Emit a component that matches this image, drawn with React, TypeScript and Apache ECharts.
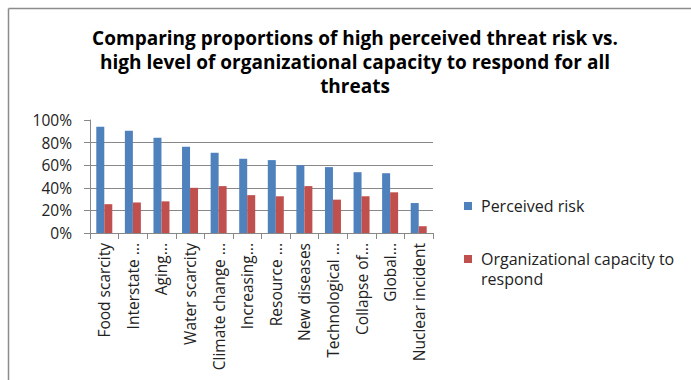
import React, { useEffect, useRef } from "react";
import * as echarts from "echarts";

const categories = [
  "Food scarcity",
  "Interstate ...",
  "Aging...",
  "Water scarcity",
  "Climate change ...",
  "Increasing...",
  "Resource ...",
  "New diseases",
  "Technological ...",
  "Collapse of...",
  "Global...",
  "Nuclear incident",
];
const perceivedRisk = [0.94, 0.905, 0.843, 0.763, 0.71, 0.657, 0.645, 0.6, 0.583, 0.538, 0.529, 0.265];
const orgCapacity = [0.255, 0.27, 0.28, 0.4, 0.415, 0.335, 0.325, 0.415, 0.295, 0.325, 0.36, 0.06];
const seriesNames = ["Perceived risk", "Organizational capacity to respond"];
const yTicks = [0, 0.2, 0.4, 0.6, 0.8, 1];
const colors = ["#4F81BD", "#C0504D"];
const titleText =
  "Comparing proportions of high perceived threat risk vs.\nhigh level of organizational capacity to respond for all\nthreats";

export default function App() {
  const ref = useRef<HTMLDivElement>(null);
  useEffect(() => {
    if (!ref.current) return;
    const chart = echarts.init(ref.current, null, { renderer: "svg" });
    const font = "'Open Sans', Lato, sans-serif";
    chart.setOption({
      animation: false,
      textStyle: { fontFamily: font },
      title: {
        text: titleText,
        left: 350,
        top: 21,
        textAlign: "center",
        textStyle: {
          fontFamily: font,
          fontSize: 19,
          fontWeight: "bold",
          color: "#000",
          lineHeight: 24,
        },
      },
      legend: { show: false },
      grid: { left: 90, right: 258, top: 120, bottom: 147 },
      xAxis: {
        type: "category",
        data: categories,
        axisLine: { lineStyle: { color: "#888", width: 1 } },
        axisTick: { show: true, length: 6, lineStyle: { color: "#888" } },
        axisLabel: {
          rotate: 90,
          interval: 0,
          fontSize: 15.5,
          color: "#222",
          fontFamily: font,
          margin: 10,
        },
      },
      yAxis: {
        type: "value",
        min: 0,
        max: 1,
        interval: 0.2,
        axisLine: { show: true, lineStyle: { color: "#888", width: 1 } },
        axisTick: { show: true, length: 6, lineStyle: { color: "#888" } },
        splitLine: {
          show: true,
          lineStyle: { color: ["#888", "#888", "#888", "#888", "#888", "rgba(0,0,0,0)"], width: 1 },
        },
        axisLabel: {
          fontSize: 15.5,
          color: "#222",
          fontFamily: font,
          margin: 18,
          formatter: (v: number) => (yTicks.some((t) => Math.abs(t - v) < 1e-9) ? Math.round(v * 100) + "%" : ""),
        },
      },
      series: [
        {
          name: seriesNames[0],
          type: "bar",
          data: perceivedRisk,
          barWidth: 8,
          barGap: "0%",
          itemStyle: { color: colors[0] },
        },
        {
          name: seriesNames[1],
          type: "bar",
          data: orgCapacity,
          barWidth: 8,
          barGap: "0%",
          itemStyle: { color: colors[1] },
        },
      ],
      graphic: [
        { type: "line", shape: { x1: 8.5, y1: 8.5, x2: 691, y2: 8.5 }, style: { stroke: "#8c8c8c", lineWidth: 1.5 } },
        { type: "line", shape: { x1: 8.5, y1: 8.5, x2: 8.5, y2: 380 }, style: { stroke: "#8c8c8c", lineWidth: 1.5 } },
        { type: "rect", shape: { x: 464, y: 202, width: 8, height: 8 }, style: { fill: colors[0] } },
        {
          type: "text",
          x: 481,
          y: 206,
          style: { text: seriesNames[0], font: `16px ${font}`, fill: "#222", verticalAlign: "middle" },
        },
        { type: "rect", shape: { x: 464, y: 255, width: 8, height: 8 }, style: { fill: colors[1] } },
        {
          type: "text",
          x: 481,
          y: 249,
          style: {
            text: "Organizational capacity to\nrespond",
            font: `16px ${font}`,
            fill: "#222",
            verticalAlign: "top",
            lineHeight: 20,
          },
        },
      ],
    });
    return () => chart.dispose();
  }, []);
  return (
    <div
      ref={ref}
      style={{ position: "fixed", left: 0, top: 0, width: 691, height: 380, background: "#fff" }}
    />
  );
}
